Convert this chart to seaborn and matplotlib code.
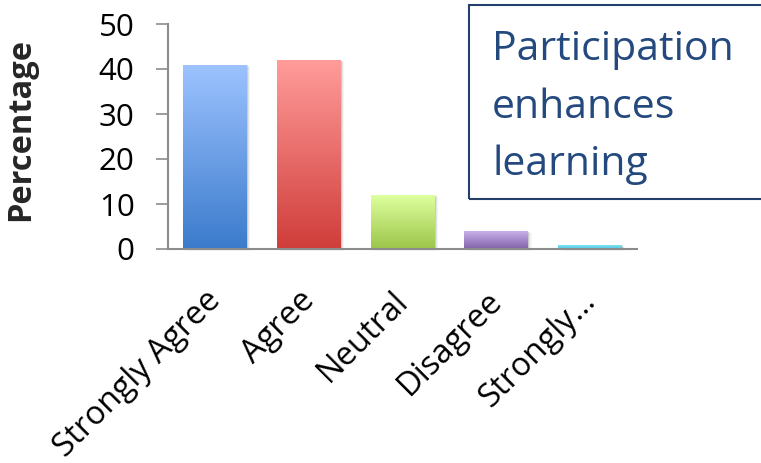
import numpy as np
import pandas as pd
import matplotlib
matplotlib.use("Agg")
import matplotlib.pyplot as plt
import matplotlib.transforms as mtransforms
import seaborn as sns
from matplotlib.colors import LinearSegmentedColormap
from matplotlib.patches import Rectangle

# Survey responses
categories = ["Strongly Agree", "Agree", "Neutral", "Disagree", "Strongly\u2026"]
percentages = [41, 42, 12, 4, 1]
y_ticks = [0, 10, 20, 30, 40, 50]
title_lines = ["Participation", "enhances", "learning"]

# Gradient fills for each bar (top colour, bottom colour)
top_colors = ["#9DC3FF", "#FF9C9A", "#DEFF9E", "#C8B0EA", "#86E8F8"]
bottom_colors = ["#3B7BCC", "#CF3D3A", "#9CC549", "#8062A8", "#4FC8E0"]

sns.set_theme(style="white")
plt.rcParams["font.family"] = ["Open Sans", "DejaVu Sans"]

fig = plt.figure(figsize=(7.61, 4.63), dpi=100)
W, H = 761, 463
ax = fig.add_axes([168 / W, (H - 249) / H, (637 - 168) / W, (249 - 24) / H])

df = pd.DataFrame({"category": categories, "pct": percentages})
sns.barplot(data=df, x="category", y="pct", ax=ax, width=0.68,
            color="white", edgecolor="none", linewidth=0)

ax.set_ylim(0, 50)
ax.set_xlim(-0.5, len(categories) - 0.5)
ax.set_yticks(y_ticks)
ax.set_yticklabels([str(t) for t in y_ticks], fontsize=22.5, color="black")
ax.set_xlabel("")
ax.set_ylabel("Percentage", fontsize=23.5, fontweight="bold")
ax.yaxis.set_label_coords((37 - 168) / (637 - 168), 0.53)

# Gradient images clipped to the bars, with a soft drop shadow
for patch, c_top, c_bot in zip(ax.patches, top_colors, bottom_colors):
    x0, y0 = patch.get_x(), patch.get_y()
    w, h = patch.get_width(), patch.get_height()
    for k, a in enumerate([0.10, 0.07, 0.04]):
        ax.add_patch(Rectangle((x0 + 0.012 * (k + 1), y0 - 0.15 * (k + 1)), w, h,
                               facecolor="black", alpha=a, edgecolor="none",
                               zorder=1, clip_on=False))
    cmap = LinearSegmentedColormap.from_list("g", [c_bot, c_top])
    grad = np.linspace(0, 1, 256).reshape(-1, 1)
    im = ax.imshow(grad, cmap=cmap, origin="lower", aspect="auto",
                   extent=[x0, x0 + w, y0, y0 + h], zorder=2)
    im.set_clip_path(patch)
    patch.set_facecolor("none")
ax.set_ylim(0, 50)
ax.set_xlim(-0.5, len(categories) - 0.5)

ax.set_xticks(range(len(categories)))
ax.set_xticklabels(categories, rotation=45, ha="right", rotation_mode="anchor",
                   fontsize=23.5, color="black")
ax.tick_params(axis="x", length=0, pad=24)
shift = mtransforms.ScaledTranslation(-11 / 100, -2 / 100, fig.dpi_scale_trans)
for lbl in ax.get_xticklabels():
    lbl.set_transform(lbl.get_transform() + shift)
ax.tick_params(axis="y", length=9, width=1.2, color="#8c8c8c", direction="out",
               left=True, pad=15)

for side in ["top", "right"]:
    ax.spines[side].set_visible(False)
for side in ["left", "bottom"]:
    ax.spines[side].set_color("#8c8c8c")
    ax.spines[side].set_linewidth(1.5)
    ax.spines[side].set_zorder(3)

# Title box
fig.patches.append(Rectangle((469 / W, (H - 199) / H), (800 - 469) / W, (199 - 5) / H,
                             transform=fig.transFigure, fill=False,
                             edgecolor="#243F6B", linewidth=1.5))
for i, line in enumerate(title_lines):
    fig.text(492 / W, (H - 60 - 57.5 * i) / H, line,
             fontsize=29.5, color="#24497F", ha="left", va="baseline")

fig.savefig("out.png", dpi=100)
